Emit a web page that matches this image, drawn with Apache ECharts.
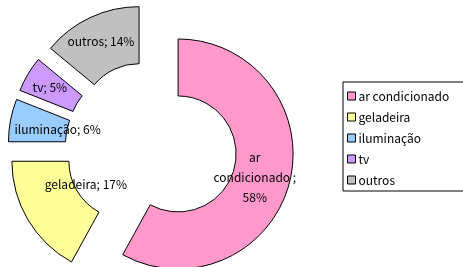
<!DOCTYPE html>
<html>
<head>
<meta charset="utf-8">
<script src="https://cdn.jsdelivr.net/npm/echarts@6/dist/echarts.min.js"></script>
<style>
  html, body { margin: 0; padding: 0; background: #fff; }
  #chart { width: 463px; height: 267px; }
</style>
</head>
<body>
<div id="chart"></div>
<script>
// consumo por uso final (%)
const categories = ['ar condicionado', 'geladeira', 'iluminação', 'tv', 'outros'];
const values = [58, 17, 6, 5, 14];
const colors = ['#ff99cc', '#ffff99', '#99ccff', '#cc99ff', '#c0c0c0'];

// label nudges, Excel puts some labels off the ring middle
const labelOffsets = [[-10, 1], [36, -22], [22, 4], [0, 0], [0, 1]];

function getOption() {
    let data = categories.map((name, i) => ({
        name: name,
        value: values[i],
        selected: true,
        itemStyle: { color: colors[i] }
    }));
    // the big slice gets its label broken over three lines
    data[0].label = { formatter: 'ar\ncondicionado ;\n58%' };

    return {
        animation: false,
        textStyle: { fontFamily: 'Noto Sans CJK JP, sans-serif' },
        legend: {
            orient: 'vertical',
            left: 343,
            top: 82,
            width: 118,
            padding: [8, 30, 5, 4],
            borderColor: '#000',
            borderWidth: 1,
            borderRadius: 0,
            icon: 'rect',
            itemWidth: 8,
            itemHeight: 8,
            itemGap: 9,
            selectedMode: false,
            itemStyle: { borderColor: '#000', borderWidth: 1 },
            textStyle: { fontSize: 12, lineHeight: 12, color: '#000', padding: [0, 0, 0, -2] },
            data: categories
        },
        series: [{
            type: 'pie',
            center: [151, 147],
            radius: [58, 115],
            startAngle: 90,
            clockwise: true,
            selectedMode: 'multiple',
            selectedOffset: 28,
            emphasis: { disabled: true },
            itemStyle: { borderColor: '#000', borderWidth: 1 },
            label: {
                show: true,
                position: 'inside',
                color: '#000',
                fontSize: 12,
                lineHeight: 20,
                formatter: '{b}; {d}%'
            },
            labelLine: { show: false },
            labelLayout: function (params) {
                let o = labelOffsets[params.dataIndex];
                return { dx: o[0], dy: o[1] };
            },
            data: data
        }]
    };
}

let myChart = echarts.init(document.getElementById('chart'));
myChart.setOption(getOption());
</script>
</body>
</html>
